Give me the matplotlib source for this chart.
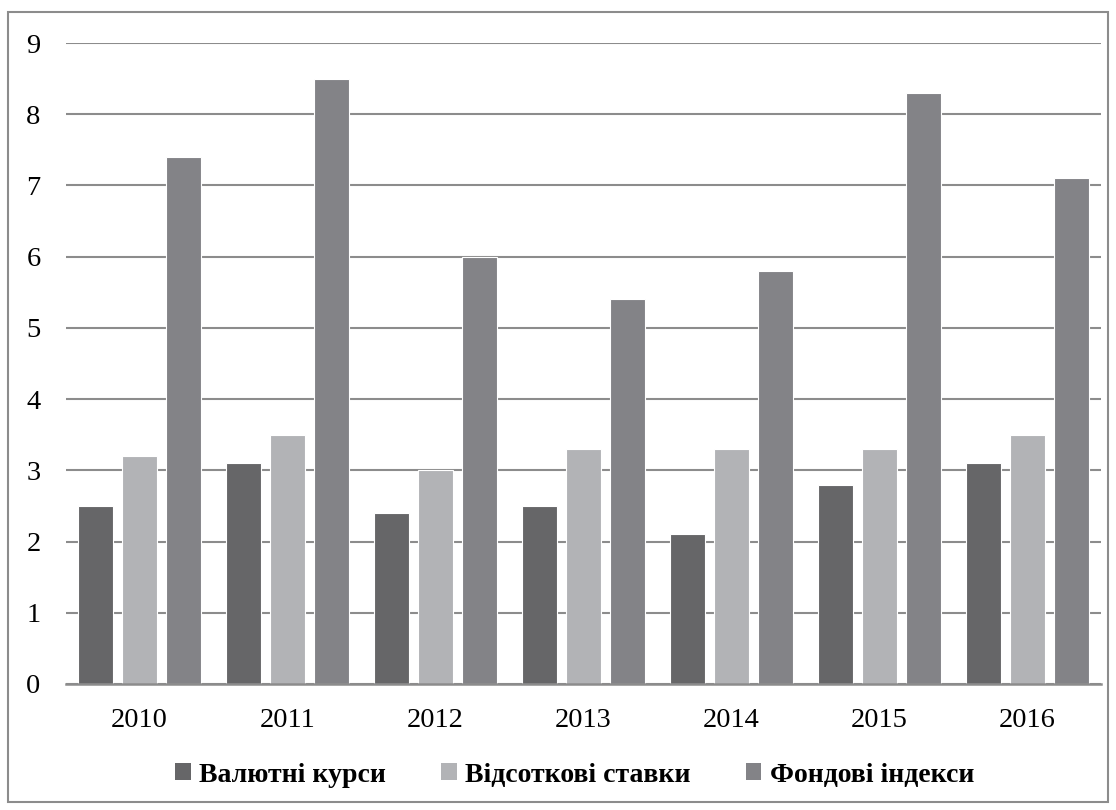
import matplotlib
matplotlib.use("Agg")
import matplotlib.pyplot as plt
import numpy as np
from matplotlib.patches import Patch, Rectangle

years = ["2010", "2011", "2012", "2013", "2014", "2015", "2016"]
currency = [2.5, 3.1, 2.4, 2.5, 2.1, 2.8, 3.1]
rates = [3.2, 3.5, 3.0, 3.3, 3.3, 3.3, 3.5]
indices = [7.4, 8.5, 6.0, 5.4, 5.8, 8.3, 7.1]
names = ["Валютні курси", "Відсоткові ставки", "Фондові індекси"]
colors = ["#666668", "#b2b3b6", "#838387"]

plt.rcParams["font.family"] = ["Liberation Serif", "DejaVu Serif"]

fig = plt.figure(figsize=(11.16, 8.1), dpi=100)
ax = fig.add_axes([0.0587, 0.1556, 0.9283, 0.7913])

x = np.arange(len(years))
w = 0.235
step = 0.297
for i, vals in enumerate([currency, rates, indices]):
    ax.bar(x + (i - 1) * step, vals, width=w, color=colors[i],
           edgecolor="white", linewidth=0.8, zorder=3)

ax.set_xlim(-0.5, len(years) - 0.5)
ax.set_ylim(0, 9)
ax.set_yticks(range(0, 10))
ax.set_xticks(x)
ax.set_xticklabels(years)
ax.tick_params(axis="both", length=0, labelsize=20.5, colors="black")
ax.tick_params(axis="y", pad=18)
ax.tick_params(axis="x", pad=17)
ax.grid(axis="y", color="#8c8c8c", linewidth=1.5, zorder=0)
for s in ["top", "right", "left"]:
    ax.spines[s].set_visible(False)
ax.spines["bottom"].set_color("#8c8c8c")
ax.spines["bottom"].set_linewidth(1.8)
ax.spines["bottom"].set_zorder(4)

handles = [Patch(facecolor=c, edgecolor="none") for c in colors]
fig.legend(handles, names, loc="center", bbox_to_anchor=(0.515, 0.043),
           ncol=3, frameon=False, handlelength=0.55, handleheight=0.55,
           handletextpad=0.3, columnspacing=2.0,
           prop={"weight": "bold", "size": 20})

fig.patches.append(Rectangle((8 / 1116, 1 - 802 / 810), 1100 / 1116, 790 / 810,
                             transform=fig.transFigure, fill=False,
                             edgecolor="#8c8c8c", linewidth=1.5))

fig.savefig("out.png", dpi=100)
